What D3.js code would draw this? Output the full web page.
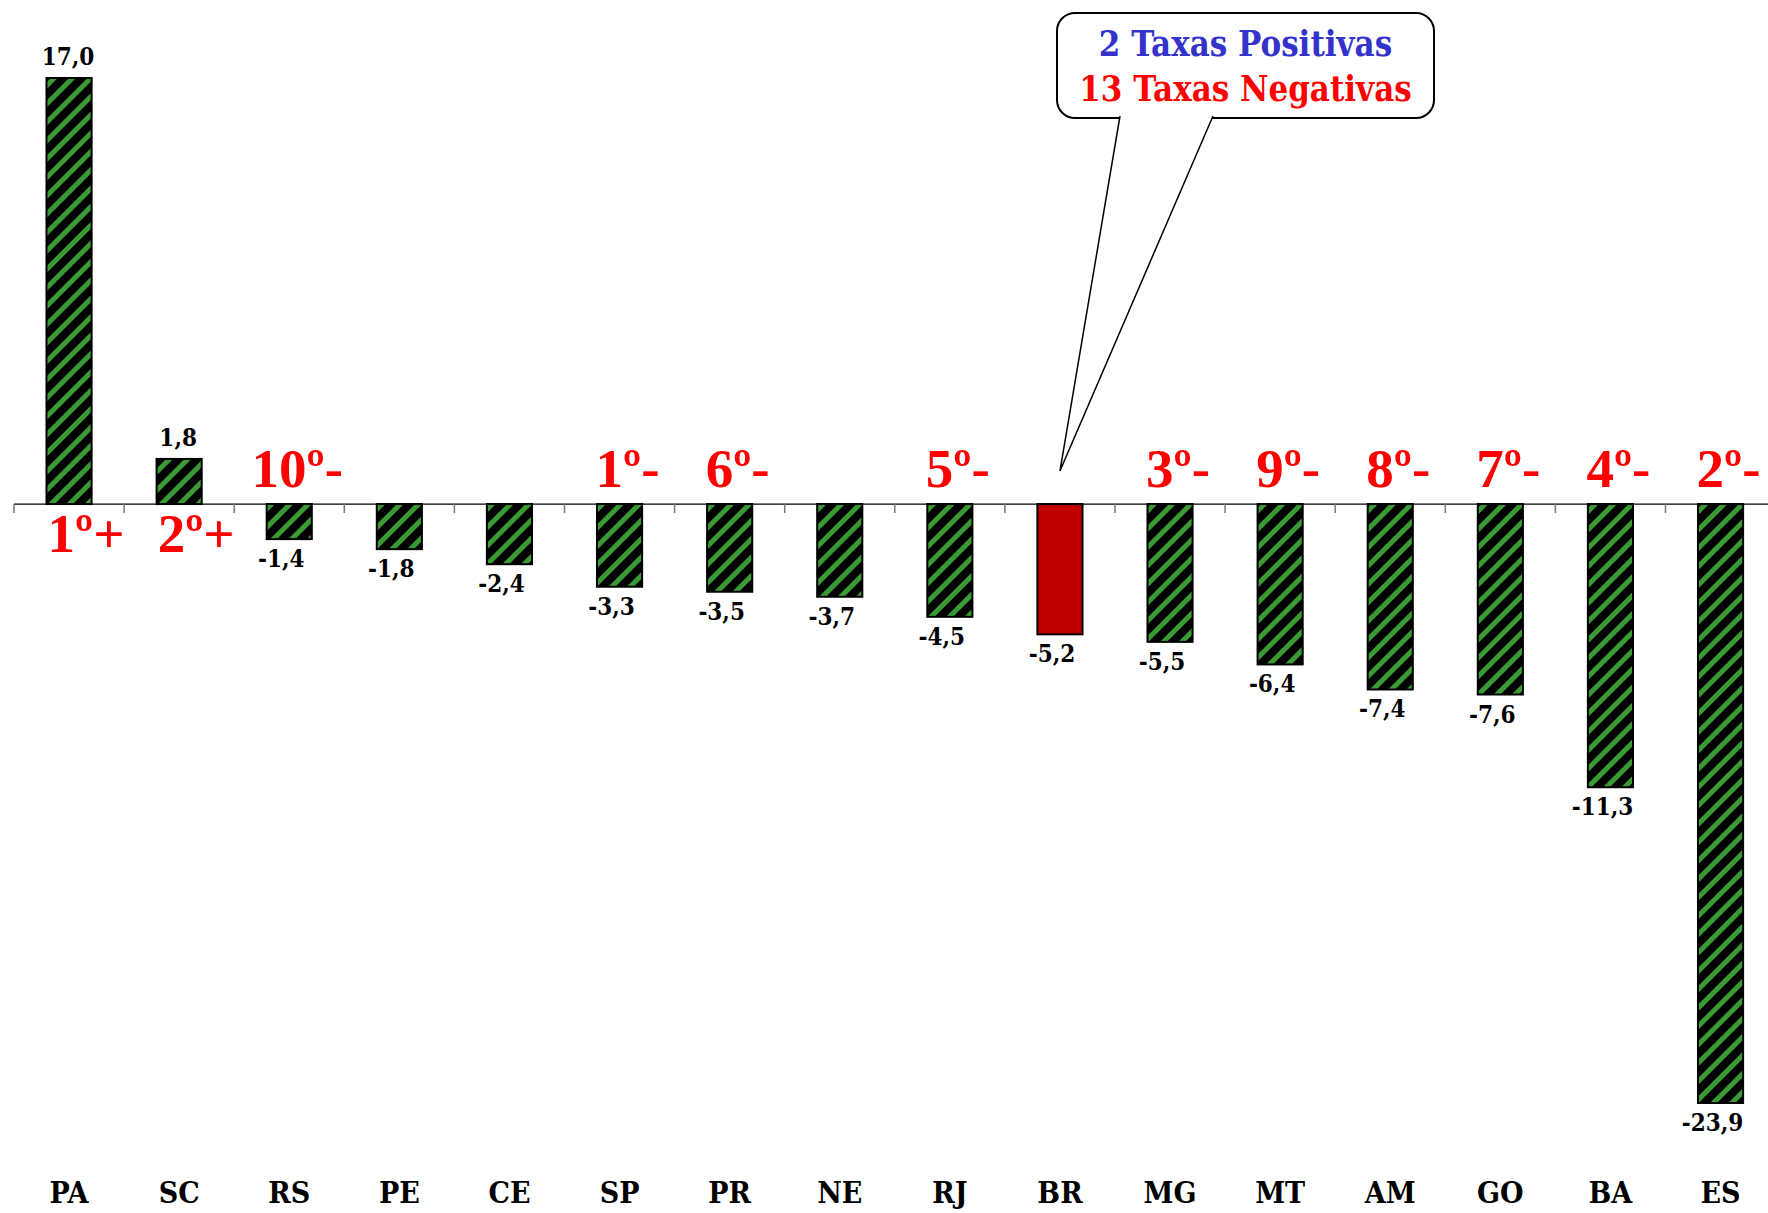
<!DOCTYPE html>
<html>
<head>
<meta charset="utf-8">
<script src="https://cdn.jsdelivr.net/npm/d3@7"></script>
<style>
  body { margin: 0; background: #fff; }
  svg { display: block; }
</style>
</head>
<body>
<div id="chart"></div>
<script>
// dados
const categorias = ["PA", "SC", "RS", "PE", "CE", "SP", "PR", "NE", "RJ", "BR", "MG", "MT", "AM", "GO", "BA", "ES"];
const taxas = [17.0, 1.8, -1.4, -1.8, -2.4, -3.3, -3.5, -3.7, -4.5, -5.2, -5.5, -6.4, -7.4, -7.6, -11.3, -23.9];
const ranking = ["1º+", "2º+", "10º-", "", "", "1º-", "6º-", "", "5º-", "", "3º-", "9º-", "8º-", "7º-", "4º-", "2º-"];
const destaque = "BR";
const balao = ["2 Taxas Positivas", "13 Taxas Negativas"];

const width = 1768, height = 1213;
const serif = "'DejaVu Serif Condensed', 'DejaVu Serif', serif";
const times = "'Liberation Serif', 'Times New Roman', serif";

const svg = d3.select("#chart").append("svg")
    .attr("width", width)
    .attr("height", height);

const defs = svg.append("defs");
const pat = defs.append("pattern")
    .attr("id", "hatch")
    .attr("patternUnits", "userSpaceOnUse")
    .attr("width", 13)
    .attr("height", 13)
    .attr("patternTransform", "rotate(45)");
pat.append("rect").attr("width", 13).attr("height", 13).attr("fill", "#000");
pat.append("rect").attr("x", 0).attr("width", 5).attr("height", 13).attr("fill", "#3a9a34");

const x = d3.scaleBand()
    .domain(categorias)
    .range([14, 14 + 16 * 110.1])
    .paddingInner(0.59)
    .paddingOuter(0.295);

const y = d3.scaleLinear()
    .domain([-23.9, 17])
    .range([1103, 78]);

const y0 = y(0);
const cx = d => x(d) + x.bandwidth() / 2;

// eixo
const eixo = svg.append("g");
eixo.append("line")
    .attr("x1", 14).attr("x2", width)
    .attr("y1", y0).attr("y2", y0)
    .attr("stroke", "#000").attr("stroke-width", 1.2);
eixo.selectAll("line.tick")
    .data(d3.range(categorias.length + 1))
    .enter().append("line")
    .attr("class", "tick")
    .attr("x1", i => 14 + i * x.step())
    .attr("x2", i => 14 + i * x.step())
    .attr("y1", y0).attr("y2", y0 + 9)
    .attr("stroke", "#777").attr("stroke-width", 1.5);

// barras
const dados = categorias.map((c, i) => ({ cat: c, v: taxas[i], r: ranking[i] }));

svg.append("g").selectAll("rect")
    .data(dados)
    .enter().append("rect")
    .attr("x", d => x(d.cat))
    .attr("width", x.bandwidth())
    .attr("y", d => y(Math.max(0, d.v)))
    .attr("height", d => Math.abs(y(d.v) - y0))
    .attr("fill", d => d.cat === destaque ? "#c00000" : "url(#hatch)")
    .attr("stroke", "#000")
    .attr("stroke-width", 2);

// rótulos de valor
svg.append("g").selectAll("text")
    .data(dados)
    .enter().append("text")
    .attr("x", d => cx(d.cat) + (d.v < 0 ? -8 : -1))
    .attr("y", d => d.v >= 0 ? y(d.v) - 13 : y(d.v) + 28)
    .attr("text-anchor", "middle")
    .attr("font-family", serif)
    .attr("font-weight", "bold")
    .attr("font-size", 24)
    .attr("fill", "#000")
    .text(d => d3.format(".1f")(d.v).replace(".", ",").replace("−", "-"));

// ranking
svg.append("g").selectAll("text")
    .data(dados.filter(d => d.r !== ""))
    .enter().append("text")
    .attr("x", d => cx(d.cat) + (d.v >= 0 ? 17 : 8))
    .attr("y", d => d.v >= 0 ? y0 + 48 : y0 - 17)
    .attr("text-anchor", "middle")
    .attr("font-family", times)
    .attr("font-weight", "bold")
    .attr("font-size", 55)
    .attr("fill", "#ff0000")
    .text(d => d.r);

// categorias
svg.append("g").selectAll("text")
    .data(categorias)
    .enter().append("text")
    .attr("x", d => cx(d))
    .attr("y", 1203)
    .attr("text-anchor", "middle")
    .attr("font-family", serif)
    .attr("font-weight", "bold")
    .attr("font-size", 30)
    .attr("fill", "#000")
    .text(d => d);

// balão
const b = svg.append("g");
b.append("rect")
    .attr("x", 1057).attr("y", 13)
    .attr("width", 377).attr("height", 105)
    .attr("rx", 18).attr("ry", 18)
    .attr("fill", "#fff").attr("stroke", "#000").attr("stroke-width", 2);
const tip = [cx(destaque), y0 - 33];
b.append("path")
    .attr("d", `M1120,116 L${tip[0]},${tip[1]} L1213,116`)
    .attr("fill", "#fff").attr("stroke", "#000").attr("stroke-width", 1.5);
b.selectAll("text")
    .data(balao)
    .enter().append("text")
    .attr("x", 1245.5)
    .attr("y", (d, i) => 56 + i * 45)
    .attr("text-anchor", "middle")
    .attr("font-family", serif)
    .attr("font-weight", "bold")
    .attr("font-size", 34.5)
    .attr("fill", (d, i) => i === 0 ? "#3333cc" : "#ff0000")
    .text(d => d);
</script>
</body>
</html>
